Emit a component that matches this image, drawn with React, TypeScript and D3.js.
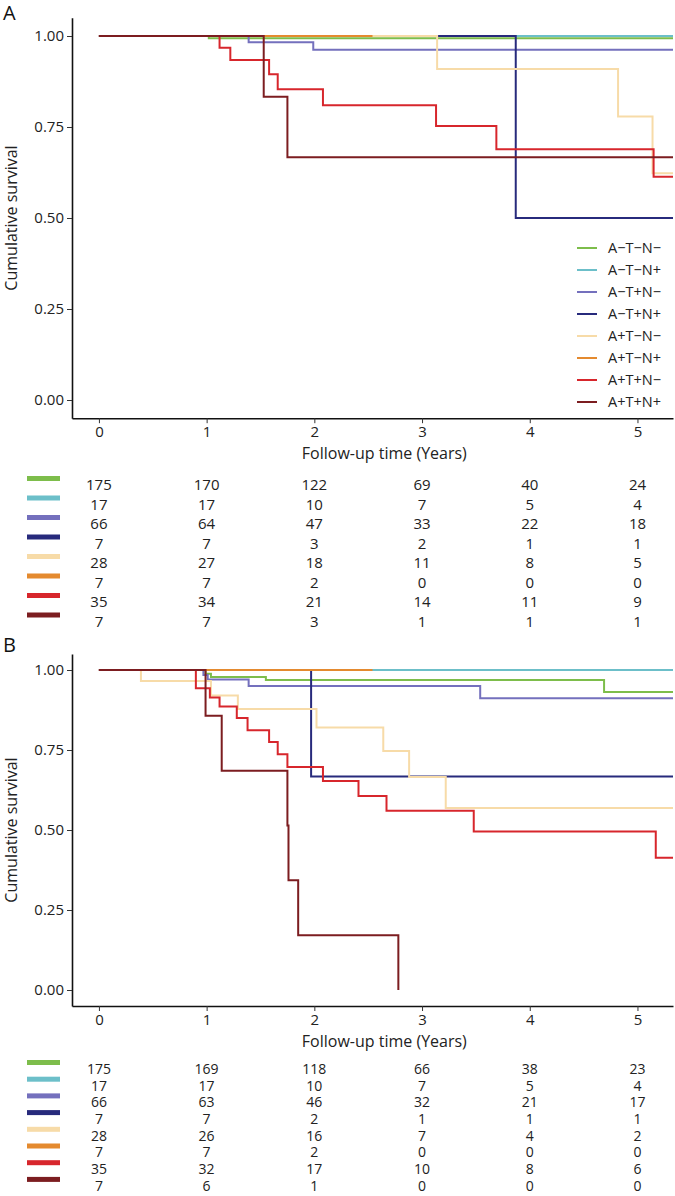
import { useEffect, useRef } from 'react';
import * as d3 from 'd3';

type Pt = [number, number];

const groups = ['A\u2212T\u2212N\u2212', 'A\u2212T\u2212N+', 'A\u2212T+N\u2212', 'A\u2212T+N+', 'A+T\u2212N\u2212', 'A+T\u2212N+', 'A+T+N\u2212', 'A+T+N+'];
const colors = ['#7dbd4b', '#6cbfc9', '#7470bd', '#272a7c', '#f7dba8', '#e48a2f', '#d7262c', '#7c1d20'];
const xTicks = [0, 1, 2, 3, 4, 5];
const yTicks = [0, 0.25, 0.5, 0.75, 1];

// panel A survival steps (time, survival)
const survA: Pt[][] = [
  [[0, 1], [1.02, 0.994], [5.4, 0.994]],
  [[0, 1], [5.4, 1]],
  [[0, 1], [1.39, 0.983], [1.99, 0.962], [5.4, 0.962]],
  [[0, 1], [3.87, 0.5], [5.4, 0.5]],
  [[0, 1], [3.14, 0.909], [4.82, 0.779], [5.14, 0.623], [5.4, 0.623]],
  [[0, 1], [2.54, 1]],
  [[0, 1], [1.12, 0.968], [1.22, 0.934], [1.58, 0.895], [1.66, 0.854], [2.08, 0.81], [3.13, 0.753], [3.69, 0.689], [5.15, 0.613], [5.4, 0.613]],
  [[0, 1], [1.53, 0.833], [1.75, 0.667], [5.4, 0.667]],
];

// panel B survival steps
const survB: Pt[][] = [
  [[0, 1], [0.99, 0.988], [1.04, 0.978], [1.55, 0.969], [4.69, 0.931], [5.4, 0.931]],
  [[0, 1], [5.4, 1]],
  [[0, 1], [0.97, 0.984], [1.01, 0.97], [1.39, 0.95], [3.54, 0.912], [5.4, 0.912]],
  [[0, 1], [1.97, 0.667], [5.4, 0.667]],
  [[0, 1], [0.39, 0.966], [1.04, 0.92], [1.29, 0.878], [2.02, 0.82], [2.64, 0.747], [2.88, 0.666], [3.22, 0.569], [5.4, 0.569]],
  [[0, 1], [2.54, 1]],
  [[0, 1], [0.9, 0.943], [1.03, 0.914], [1.12, 0.886], [1.28, 0.85], [1.38, 0.812], [1.58, 0.775], [1.66, 0.737], [1.75, 0.697], [2.08, 0.653], [2.41, 0.606], [2.67, 0.56], [3.48, 0.495], [5.17, 0.413], [5.4, 0.413]],
  [[0, 1], [0.99, 0.857], [1.14, 0.685], [1.75, 0.514], [1.76, 0.343], [1.85, 0.171], [2.78, 0], [2.78, 0]],
];

const riskA = [
  [175, 170, 122, 69, 40, 24],
  [17, 17, 10, 7, 5, 4],
  [66, 64, 47, 33, 22, 18],
  [7, 7, 3, 2, 1, 1],
  [28, 27, 18, 11, 8, 5],
  [7, 7, 2, 0, 0, 0],
  [35, 34, 21, 14, 11, 9],
  [7, 7, 3, 1, 1, 1],
];

const riskB = [
  [175, 169, 118, 66, 38, 23],
  [17, 17, 10, 7, 5, 4],
  [66, 63, 46, 32, 21, 17],
  [7, 7, 2, 1, 1, 1],
  [28, 26, 16, 7, 4, 2],
  [7, 7, 2, 0, 0, 0],
  [35, 32, 17, 10, 8, 6],
  [7, 6, 1, 0, 0, 0],
];

const FONT = "'Open Sans', sans-serif";
const INK = '#222';

export default function App() {
  const svgRef = useRef<SVGSVGElement>(null);

  useEffect(() => {
    if (!svgRef.current) return;
    const svg = d3.select(svgRef.current);
    svg.selectAll('*').remove();

    const x = d3.scaleLinear().domain([-0.25, 5.33]).range([72, 673]);

    const panels = [
      { label: 'A', surv: survA, risk: riskA, yOne: 36, yZero: 400, rowTop: 485, rowStep: 19.5, rowFont: 15, legend: true, labelY: 20 },
      { label: 'B', surv: survB, risk: riskB, yOne: 670, yZero: 990, rowTop: 1069, rowStep: 16.7, rowFont: 14, legend: false, labelY: 652 },
    ];

    panels.forEach((p, pi) => {
      const h = p.yZero - p.yOne;
      const y = d3.scaleLinear().domain([-0.05, 1.05]).range([p.yZero + 0.05 * h, p.yOne - 0.05 * h]);
      const [yb, yt] = y.range();

      const clipId = `clip${pi}`;
      svg.append('clipPath').attr('id', clipId)
        .append('rect').attr('x', 72).attr('y', yt - 2).attr('width', 601).attr('height', yb - yt + 4);

      const line = d3.line<Pt>().x(d => x(d[0])).y(d => y(d[1])).curve(d3.curveStepAfter);
      const g = svg.append('g').attr('clip-path', `url(#${clipId})`);
      p.surv.forEach((s, i) => {
        g.append('path').datum(s)
          .attr('fill', 'none')
          .attr('stroke', colors[i])
          .attr('stroke-width', 2)
          .attr('d', line);
      });

      // axes
      const ya = svg.append('g').attr('transform', 'translate(72,0)')
        .call(d3.axisLeft(y).tickValues(yTicks).tickFormat(d3.format('.2f')).tickSize(5).tickSizeOuter(0).tickPadding(3));
      const xa = svg.append('g').attr('transform', `translate(0,${yb})`)
        .call(d3.axisBottom(x).tickValues(xTicks).tickFormat(d3.format('d')).tickSize(5).tickSizeOuter(0).tickPadding(3));
      [ya, xa].forEach(a => {
        a.select('.domain').attr('stroke', '#111').attr('stroke-width', 1.6);
        a.selectAll('.tick line').attr('stroke', '#333').attr('stroke-width', 1);
        a.selectAll('.tick text').attr('fill', INK).attr('font-family', FONT).attr('font-size', 15);
      });

      svg.append('text')
        .attr('transform', `translate(17,${(yb + yt) / 2}) rotate(-90)`)
        .attr('text-anchor', 'middle')
        .attr('font-family', FONT).attr('font-size', 16).attr('fill', INK)
        .text('Cumulative survival');

      svg.append('text')
        .attr('x', x(2.65)).attr('y', yb + 41)
        .attr('text-anchor', 'middle')
        .attr('font-family', FONT).attr('font-size', 16).attr('fill', INK)
        .text('Follow-up time (Years)');

      svg.append('text')
        .attr('x', 3).attr('y', p.labelY)
        .attr('font-family', FONT).attr('font-size', 20).attr('fill', '#111')
        .text(p.label);

      // legend
      if (p.legend) {
        groups.forEach((name, i) => {
          const cy = 248 + 22 * i;
          svg.append('line').attr('x1', 577).attr('x2', 597).attr('y1', cy).attr('y2', cy)
            .attr('stroke', colors[i]).attr('stroke-width', 2);
          svg.append('text').attr('x', 608).attr('y', cy).attr('dy', '0.35em')
            .attr('font-family', FONT).attr('font-size', 14.5).attr('fill', INK)
            .text(name);
        });
      }

      // risk table
      p.risk.forEach((row, i) => {
        const cy = p.rowTop + p.rowStep * i;
        svg.append('rect').attr('x', 27).attr('y', cy - 9).attr('width', 33).attr('height', 5)
          .attr('fill', colors[i]);
        row.forEach((v, j) => {
          svg.append('text').attr('x', x(xTicks[j])).attr('y', cy).attr('dy', '0.35em')
            .attr('text-anchor', 'middle')
            .attr('font-family', FONT).attr('font-size', p.rowFont).attr('fill', INK)
            .text(v);
        });
      });
    });
  }, []);

  return (
    <svg ref={svgRef} width={675} height={1196}
      style={{ position: 'absolute', left: 0, top: 0, background: '#fff' }} />
  );
}
